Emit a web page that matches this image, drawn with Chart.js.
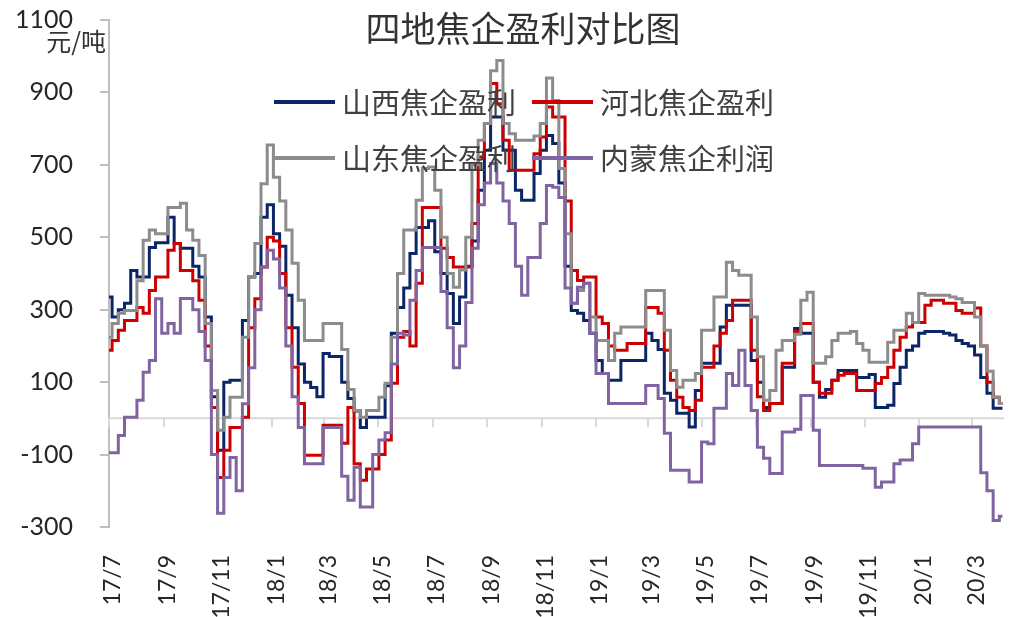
<!DOCTYPE html>
<html>
<head>
<meta charset="utf-8">
<script src="https://cdn.jsdelivr.net/npm/chart.js@4.4.1/dist/chart.umd.min.js"></script>
<style>
    html, body { margin: 0; padding: 0; background: #fff; }
    canvas { display: block; }
</style>
</head>
<body>
<canvas id="cokeProfit" width="1020" height="617"></canvas>
<script>
// weekly readings, first point on 2017-07-01, one point every 7 days
var startDate = '2017-07-01';
var seriesNames = ['山西焦企盈利', '河北焦企盈利', '山东焦企盈利', '内蒙焦企利润'];

var shanxi = [
    335, 280, 300, 318, 408, 390, 390, 472, 485, 485,
    555, 483, 470, 470, 420, 390, 280, 60, -88, 100,
    105, 105, 270, 390, 400, 555, 590, 510, 475, 340,
    250, 150, 100, 85, 60, 179, 171, 171, 100, 55,
    20, -25, 3, 3, 3, 90, 235, 306, 360, 455,
    527, 527, 546, 460, 400, 345, 262, 335, 420, 490,
    630, 740, 832, 832, 740, 740, 630, 602, 602, 676,
    740, 781, 759, 650, 420, 298, 290, 270, 235, 160,
    124, 105, 105, 160, 160, 160, 160, 235, 215, 190,
    69, 50, 14, 14, -24, 77, 152, 152, 152, 252,
    312, 312, 312, 312, 160, 100, 30, 41, 41, 141,
    141, 248, 235, 235, 100, 58, 80, 105, 132, 132,
    132, 113, 113, 121, 30, 30, 36, 96, 141, 188,
    200, 235, 240, 240, 240, 235, 230, 215, 207, 200,
    175, 113, 69, 28, 28
];
var hebei = [
    188, 215, 243, 270, 270, 306, 290, 353, 390, 390,
    464, 483, 408, 408, 380, 326, 200, 30, -163, -88,
    -25, -25, 3, 250, 330, 418, 500, 490, 400, 250,
    141, 41, -102, -102, -102, -19, -19, -19, -69, 30,
    -125, -171, -140, -140, -100, -60, 97, 224, 240, 200,
    373, 582, 582, 582, 470, 444, 418, 418, 418, 538,
    722, 814, 925, 869, 768, 685, 685, 685, 685, 731,
    777, 860, 832, 832, 600, 408, 381, 390, 390, 280,
    262, 200, 188, 188, 207, 207, 207, 306, 306, 290,
    188, 105, 58, 30, 22, 50, 141, 141, 200, 235,
    270, 326, 326, 326, 188, 60, 22, 41, 41, 152,
    152, 240, 262, 262, 100, 69, 69, 105, 119, 124,
    124, 77, 77, 77, 96, 113, 141, 188, 224, 252,
    265, 265, 312, 326, 326, 318, 318, 298, 290, 290,
    305, 200, 100, 58, 41
];
var shandong = [
    224, 262, 290, 298, 298, 380, 492, 520, 510, 510,
    582, 582, 594, 520, 492, 450, 262, 77, -33, 3,
    58, 58, 224, 390, 483, 648, 755, 666, 600, 520,
    428, 326, 215, 215, 215, 262, 262, 262, 190, 80,
    22, 3, 22, 22, 58, 97, 224, 400, 520, 520,
    602, 690, 694, 630, 500, 400, 362, 410, 500, 700,
    768, 814, 960, 988, 814, 786, 768, 768, 768, 780,
    814, 940, 878, 690, 510, 318, 353, 373, 280, 215,
    215, 160, 235, 252, 252, 252, 252, 353, 353, 353,
    243, 132, 86, 105, 105, 124, 243, 243, 335, 335,
    431, 408, 395, 395, 280, 170, 50, 77, 188, 215,
    215, 232, 326, 348, 152, 152, 170, 215, 235, 235,
    240, 207, 188, 155, 155, 155, 210, 243, 243, 290,
    265, 345, 340, 340, 340, 340, 335, 330, 320, 320,
    280, 200, 130, 58, 41
];
var neimeng = [
    -95, -95, -47, 3, 3, 50, 127, 160, 330, 235,
    262, 235, 331, 331, 300, 240, 160, -100, -262, -163,
    -108, -200, 40, 140, 300, 418, 464, 440, 360, 200,
    60, -25, -125, -125, -125, -25, -25, -25, -160, -226,
    -135, -245, -245, -100, -60, -40, 150, 235, 230, 326,
    408, 472, 472, 472, 350, 250, 140, 200, 320, 470,
    590, 650, 704, 650, 600, 538, 420, 340, 444, 444,
    538, 643, 638, 610, 360, 318, 362, 373, 235, 124,
    124, 41, 41, 41, 41, 41, 41, 91, 91, 55,
    -41, -143, -143, -143, -176, -176, -65, -70, 28, 28,
    124, 91, 188, 91, 22, -80, -110, -152, -152, -38,
    -38, -30, 63, 63, -33, -130, -130, -130, -130, -130,
    -130, -130, -138, -138, -190, -176, -176, -125, -115, -115,
    -70, -24, -24, -24, -24, -24, -24, -24, -24, -24,
    -24, -150, -200, -282, -270
];

var tickDates = ['2017-07-01', '2017-09-01', '2017-11-01', '2018-01-01', '2018-03-01', '2018-05-01',
    '2018-07-01', '2018-09-01', '2018-11-01', '2019-01-01', '2019-03-01', '2019-05-01',
    '2019-07-01', '2019-09-01', '2019-11-01', '2020-01-01', '2020-03-01'];
var tickLabels = ['17/7', '17/9', '17/11', '18/1', '18/3', '18/5', '18/7', '18/9', '18/11',
    '19/1', '19/3', '19/5', '19/7', '19/9', '19/11', '20/1', '20/3'];
var yTicks = [-300, -100, 100, 300, 500, 700, 900, 1100];

var colors = ['#0b2566', '#cc0000', '#8c8c8c', '#8064a2'];

function dayOf(s) {
    return Math.round((Date.parse(s + 'T00:00:00Z') - Date.parse(startDate + 'T00:00:00Z')) / 86400000);
}

var weekDays = [];
for (var i = 0; i < shanxi.length; i++) weekDays.push(i * 7);
var tickDays = tickDates.map(dayOf);

// zero line with its small tick marks, like the excel category axis
var zeroLinePlugin = {
    id: 'zeroLine',
    beforeDatasetsDraw: function (chart) {
        var ctx = chart.ctx, xs = chart.scales.x, ys = chart.scales.y, area = chart.chartArea;
        var y0 = ys.getPixelForValue(0);
        ctx.save();
        ctx.strokeStyle = '#d9d9d9';
        ctx.lineWidth = 2;
        ctx.beginPath();
        ctx.moveTo(area.left, y0);
        ctx.lineTo(area.right, y0);
        tickDays.forEach(function (d) {
            var px = Math.round(xs.getPixelForValue(d));
            ctx.moveTo(px, y0);
            ctx.lineTo(px, y0 + 9);
        });
        ctx.stroke();
        ctx.restore();
    }
};

// title, unit and the 2x2 legend drawn over the plot
var overlayPlugin = {
    id: 'overlay',
    afterDatasetsDraw: function (chart) {
        var ctx = chart.ctx, area = chart.chartArea;
        ctx.save();
        ctx.fillStyle = '#333333';
        ctx.textBaseline = 'middle';
        ctx.textAlign = 'center';
        ctx.font = '35px "Noto Sans CJK SC", sans-serif';
        ctx.fillText('四地焦企盈利对比图', 523, 29);

        ctx.textAlign = 'right';
        ctx.font = '25px "Noto Sans CJK SC", sans-serif';
        ctx.fillText('元/吨', 106, 41);

        var cols = [area.left + 165, area.left + 423];
        var rows = [area.top + 82, area.top + 138];
        ctx.textAlign = 'left';
        ctx.font = '29px "Noto Sans CJK SC", sans-serif';
        ctx.lineWidth = 4;
        chart.data.datasets.forEach(function (ds, i) {
            var lx = cols[i % 2], ly = rows[Math.floor(i / 2)];
            ctx.strokeStyle = ds.borderColor;
            ctx.beginPath();
            ctx.moveTo(lx, ly);
            ctx.lineTo(lx + 61, ly);
            ctx.stroke();
            ctx.fillStyle = '#404040';
            ctx.fillText(ds.label, lx + 68, ly + 1);
        });
        ctx.restore();
    }
};

Chart.defaults.font.family = 'Lato, "Noto Sans CJK SC", sans-serif';
Chart.defaults.color = '#333333';

var series = [shanxi, hebei, shandong, neimeng];
var drawOrder = [3, 2, 1, 0];

new Chart(document.getElementById('cokeProfit').getContext('2d'), {
    type: 'line',
    data: {
        labels: weekDays,
        datasets: series.map(function (vals, i) {
            return {
                label: seriesNames[i],
                data: vals,
                borderColor: colors[i],
                backgroundColor: colors[i],
                borderWidth: 3,
                pointRadius: 0,
                stepped: 'middle',
                fill: false,
                order: drawOrder[i]
            };
        })
    },
    options: {
        responsive: false,
        devicePixelRatio: 1,
        animation: false,
        layout: {
            padding: { top: 20, right: 2, left: 0, bottom: 0 }
        },
        plugins: {
            legend: { display: false },
            title: { display: false },
            tooltip: { enabled: false }
        },
        scales: {
            x: {
                type: 'linear',
                min: 0,
                max: 1010,
                afterBuildTicks: function (scale) {
                    scale.ticks = tickDays.map(function (d) { return { value: d }; });
                },
                afterFit: function (scale) { scale.height = 90; },
                grid: { display: false },
                border: { display: false },
                ticks: {
                    autoSkip: false,
                    minRotation: 90,
                    maxRotation: 90,
                    padding: 20,
                    labelOffset: 4,
                    font: { size: 23 },
                    color: '#262626',
                    callback: function (value, index) { return tickLabels[index]; }
                }
            },
            y: {
                min: -300,
                max: 1100,
                afterBuildTicks: function (scale) {
                    scale.ticks = yTicks.map(function (v) { return { value: v }; });
                },
                afterFit: function (scale) {
                    scale.width = 109;
                    // the label padding should not push the plot down
                    scale.paddingTop = 0;
                    scale.paddingBottom = 0;
                },
                grid: {
                    drawOnChartArea: false,
                    drawTicks: true,
                    tickLength: 9,
                    color: '#bfbfbf',
                    lineWidth: 2
                },
                border: { display: true, color: '#bfbfbf', width: 2 },
                ticks: {
                    padding: 27,
                    font: { size: 25 },
                    color: '#262626',
                    callback: function (value) { return String(value); }
                }
            }
        }
    },
    plugins: [zeroLinePlugin, overlayPlugin]
});
</script>
</body>
</html>
